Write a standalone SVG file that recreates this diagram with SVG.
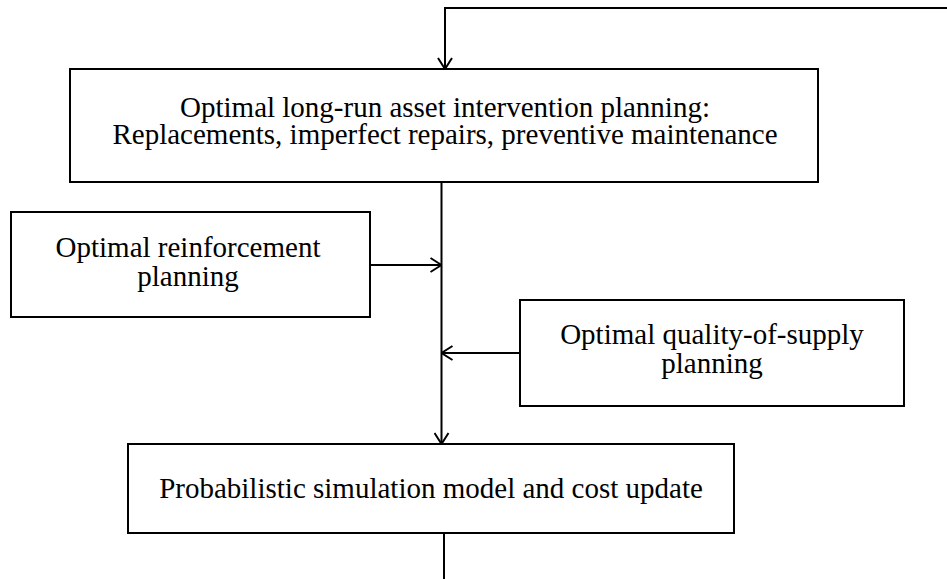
<svg xmlns="http://www.w3.org/2000/svg" width="947" height="579" viewBox="0 0 947 579">
  <style>
    .box { fill: #ffffff; stroke: #000000; stroke-width: 2; }
    .lbl { font-family: "Liberation Serif", "Times New Roman", serif; font-size: 29px; fill: #000000; text-anchor: middle; }
    .wire { fill: none; stroke: #000000; stroke-width: 2; }
  </style>
  <defs>
    <marker id="arrow" viewBox="0 0 12 16" refX="12" refY="8" markerWidth="12" markerHeight="16" markerUnits="userSpaceOnUse" orient="auto">
      <path d="M1,1 L12,8 L1,15" fill="none" stroke="#000000" stroke-width="2"/>
    </marker>
  </defs>

  <rect width="947" height="579" fill="#ffffff"/>

  <g id="connectors">
    <!-- feedback loop entering the top planning box -->
    <path class="wire" d="M947,8 L445,8 L445,69" marker-end="url(#arrow)"/>
    <!-- main trunk down to the simulation box -->
    <path class="wire" d="M441.5,182 L441.5,444" marker-end="url(#arrow)"/>
    <!-- reinforcement into trunk -->
    <path class="wire" d="M370,265 L441.5,265" marker-end="url(#arrow)"/>
    <!-- quality-of-supply into trunk -->
    <path class="wire" d="M520,353 L441.5,353" marker-end="url(#arrow)"/>
    <!-- outgoing from simulation box -->
    <path class="wire" d="M444,533 L444,579"/>
  </g>

  <g id="intervention">
    <rect class="box" x="70" y="69" width="748" height="113"/>
    <text class="lbl" x="445" y="117">Optimal long-run asset intervention planning:</text>
    <text class="lbl" x="445" y="144">Replacements, imperfect repairs, preventive maintenance</text>
  </g>

  <g id="reinforcement">
    <rect class="box" x="11" y="212" width="359" height="105"/>
    <text class="lbl" x="188" y="257">Optimal reinforcement</text>
    <text class="lbl" x="188" y="286">planning</text>
  </g>

  <g id="quality">
    <rect class="box" x="520" y="300" width="384" height="106"/>
    <text class="lbl" x="712" y="344">Optimal quality-of-supply</text>
    <text class="lbl" x="712" y="373">planning</text>
  </g>

  <g id="simulation">
    <rect class="box" x="128" y="444" width="606" height="89"/>
    <text class="lbl" x="431" y="498">Probabilistic simulation model and cost update</text>
  </g>
</svg>
